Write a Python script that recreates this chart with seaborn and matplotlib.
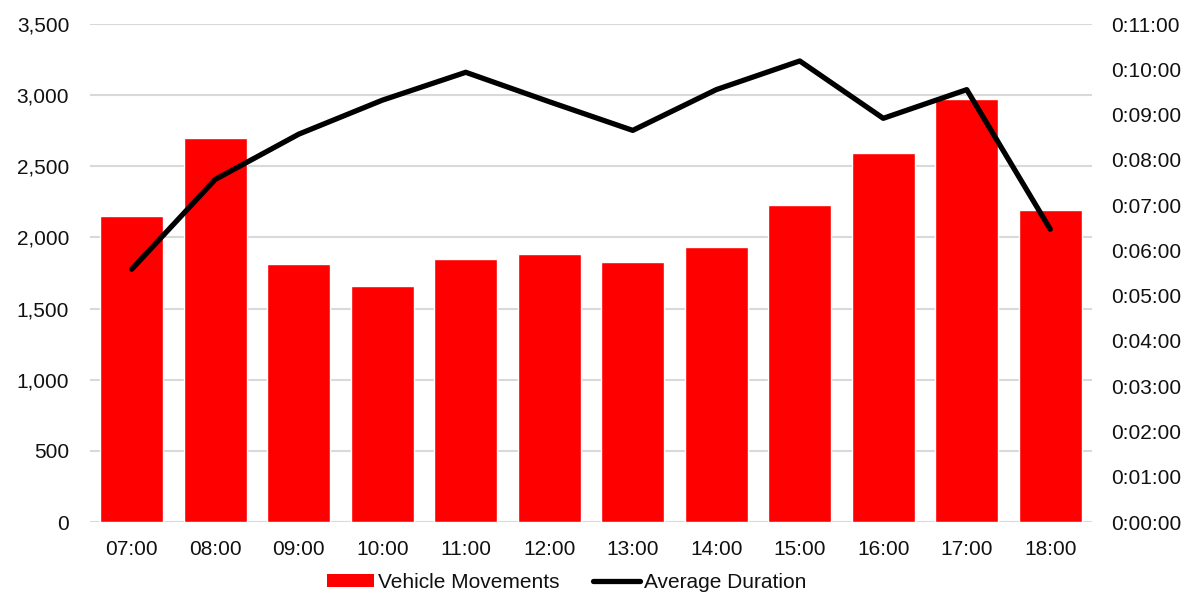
import matplotlib
matplotlib.use("Agg")
import matplotlib.pyplot as plt
from matplotlib.ticker import FuncFormatter, MultipleLocator
from matplotlib.patches import Patch
from matplotlib.lines import Line2D
import numpy as np
import pandas as pd
import seaborn as sns

hours = ["07:00", "08:00", "09:00", "10:00", "11:00", "12:00",
         "13:00", "14:00", "15:00", "16:00", "17:00", "18:00"]
vehicle_movements = [2150, 2700, 1815, 1660, 1850, 1885,
                     1830, 1930, 2230, 2595, 2975, 2190]
# average duration in seconds
average_duration = [335, 454, 514, 559, 596, 557,
                    519, 573, 611, 535, 573, 388]

sns.set_theme(style="white")
plt.rcParams["font.family"] = ["Liberation Sans", "DejaVu Sans"]

df = pd.DataFrame({"hour": hours, "movements": vehicle_movements,
                   "duration": average_duration, "pos": np.arange(len(hours))})

fig = plt.figure(figsize=(12.04, 5.99), dpi=100)
ax = fig.add_axes([90 / 1204, 1 - 522 / 599, (1092 - 90) / 1204, (522 - 24) / 599])

sns.barplot(data=df, x="hour", y="movements", color="#ff0000", saturation=1,
            width=0.75, ax=ax, zorder=2)
ax.set_ylim(0, 3500)
ax.yaxis.set_major_locator(MultipleLocator(500))
ax.yaxis.set_major_formatter(FuncFormatter(lambda v, p: f"{int(v):,}"))
ax.grid(axis="y", color="#d9d9d9", linewidth=1.5, zorder=0)
ax.set_axisbelow(True)
ax.set_xlabel("")
ax.set_ylabel("")
ax.set_xlim(-0.5, len(hours) - 0.5)

ax2 = ax.twinx()
sns.lineplot(data=df, x="pos", y="duration", color="black", linewidth=3.8,
             solid_capstyle="round", solid_joinstyle="round", ax=ax2, zorder=3)
ax2.set_ylim(0, 660)
ax2.yaxis.set_major_locator(MultipleLocator(60))
ax2.yaxis.set_major_formatter(
    FuncFormatter(lambda v, p: f"{int(v) // 3600}:{(int(v) % 3600) // 60:02d}:{int(v) % 60:02d}"))
ax2.set_ylabel("")
ax2.set_xlabel("")
ax2.set_xlim(-0.5, len(hours) - 0.5)

for a in (ax, ax2):
    for s in a.spines.values():
        s.set_visible(False)
    a.tick_params(length=0, labelsize=15, colors="#111111")
ax.tick_params(axis="y", pad=15)
ax.tick_params(axis="x", pad=13)
ax2.tick_params(axis="y", pad=14)

handles = [Patch(facecolor="#ff0000", edgecolor="none"),
           Line2D([0], [0], color="black", linewidth=3.8, solid_capstyle="round")]
fig.legend(handles, ["Vehicle Movements", "Average Duration"],
           loc="center", bbox_to_anchor=(567 / 1204, 1 - 582 / 599), ncol=2,
           frameon=False, fontsize=15, handlelength=2.25, handleheight=0.6,
           handletextpad=0.2, columnspacing=1.6, labelcolor="#111111")

fig.savefig("out.png", dpi=100, facecolor="white")
